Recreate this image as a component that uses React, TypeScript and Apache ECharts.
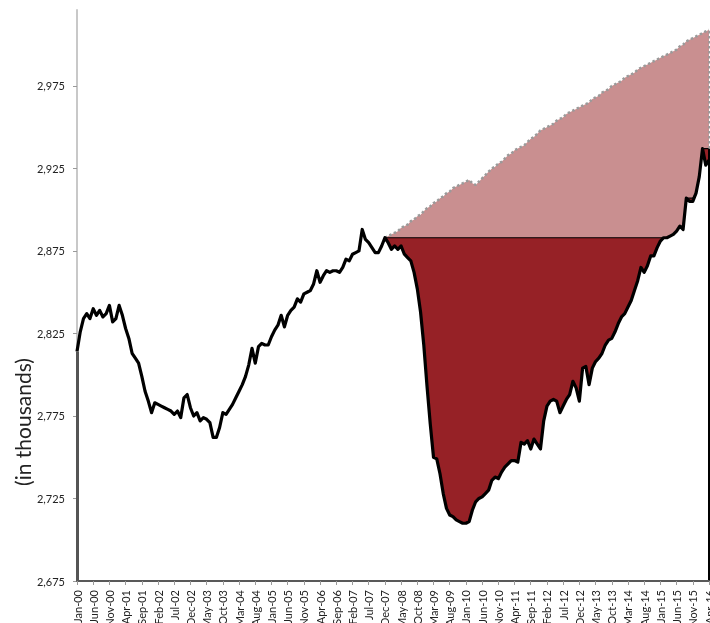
import React, { useEffect, useRef } from "react";
import * as echarts from "echarts";

const monthNames = ["Jan", "Feb", "Mar", "Apr", "May", "Jun", "Jul", "Aug", "Sep", "Oct", "Nov", "Dec"];
const categories: string[] = [];
for (let y = 2000; y <= 2016; y++) {
  for (let m = 0; m < 12; m++) {
    if (y === 2016 && m > 3) break;
    categories.push(`${monthNames[m]}-${String(y % 100).padStart(2, "0")}`);
  }
}

// Actual employment (thousands), Jan-00 .. Dec-07
const actual2000_2007 = [
  2814, 2826, 2834, 2837, 2834, 2840, 2836, 2839, 2835, 2837, 2842, 2832,
  2834, 2842, 2836, 2828, 2822, 2813, 2810, 2807, 2799, 2790, 2784, 2777,
  2783, 2782, 2781, 2780, 2779, 2778, 2776, 2778, 2774, 2786, 2788, 2780,
  2775, 2777, 2772, 2774, 2773, 2771, 2762, 2762, 2768, 2777, 2776, 2779,
  2782, 2786, 2790, 2794, 2799, 2806, 2816, 2807, 2817, 2819, 2818, 2818,
  2823, 2827, 2830, 2836, 2829, 2836, 2839, 2841, 2846, 2844, 2849, 2850,
  2851, 2855, 2863, 2856, 2860, 2863, 2862, 2863, 2863, 2862, 2865, 2870,
  2869, 2873, 2874, 2875, 2888, 2882, 2880, 2877, 2874, 2874, 2878, 2883,
];
// Actual employment (thousands), Jan-08 .. Apr-16
const actual2008_2016 = [
  2880, 2876, 2878, 2876, 2878, 2873, 2871, 2869, 2862, 2852, 2838, 2818,
  2793, 2770, 2750, 2749, 2740, 2728, 2719, 2715, 2714, 2712, 2711, 2710,
  2710, 2711, 2718, 2723, 2725, 2726, 2728, 2730, 2736, 2738, 2737, 2741,
  2744, 2746, 2748, 2748, 2747, 2759, 2758, 2760, 2755, 2761, 2758, 2755,
  2772, 2781, 2784, 2785, 2784, 2777, 2781, 2785, 2788, 2796, 2792, 2784,
  2804, 2805, 2794, 2804, 2808, 2810, 2813, 2818, 2821, 2822, 2826, 2831,
  2835, 2837, 2841, 2845, 2851, 2857, 2865, 2862, 2866, 2872, 2872, 2877,
  2881, 2883, 2883, 2884, 2885, 2887, 2890, 2888, 2907, 2905, 2905, 2910,
  2920, 2937, 2927, 2930,
];
// Pre-recession trend (thousands), Dec-07 .. Apr-16
const trendValues = [
  2883,
  2884, 2885, 2886, 2887, 2889, 2890, 2891, 2893, 2894, 2896, 2897, 2899,
  2901, 2902, 2904, 2905, 2907, 2908, 2910, 2911, 2913, 2914, 2915, 2916,
  2917, 2918, 2916, 2915, 2917, 2919, 2921, 2923, 2925, 2926, 2928, 2929,
  2931, 2933, 2934, 2936, 2937, 2938, 2939, 2941, 2943, 2944, 2946, 2948,
  2949, 2950, 2951, 2952, 2954, 2955, 2956, 2958, 2959, 2960, 2961, 2962,
  2963, 2964, 2965, 2967, 2968, 2969, 2971, 2972, 2973, 2975, 2976, 2977,
  2978, 2980, 2981, 2982, 2983, 2985, 2986, 2987, 2988, 2989, 2990, 2991,
  2992, 2993, 2994, 2995, 2996, 2997, 2999, 3000, 3002, 3003, 3004, 3005,
  3006, 3007, 3008, 3009,
];
const yTicks = [2675, 2725, 2775, 2825, 2875, 2925, 2975];

const PEAK_INDEX = 95; // Dec-07

export default function App() {
  const ref = useRef<HTMLDivElement>(null);
  useEffect(() => {
    if (!ref.current) return;
    const chart = echarts.init(ref.current, undefined, { renderer: "svg" });

    const actual = [...actual2000_2007, ...actual2008_2016];
    const trend: (number | null)[] = actual.map((_, i) => (i < PEAK_INDEX ? null : trendValues[i - PEAK_INDEX]));
    // previous peak since Dec-07 (running maximum of actual)
    const peak: (number | null)[] = [];
    let runMax = -Infinity;
    actual.forEach((v, i) => {
      if (i < PEAK_INDEX) { peak.push(null); return; }
      runMax = Math.max(runMax, v);
      peak.push(runMax);
    });
    const last = categories.length - 1;
    const font = "Lato, 'Open Sans', sans-serif";

    chart.setOption({
      animation: false,
      grid: { left: 77, right: 1, top: 10, bottom: 42, outerBoundsMode: "none", containLabel: false },
      xAxis: {
        type: "category",
        data: categories,
        boundaryGap: false,
        z: 10,
        axisLine: { lineStyle: { color: "#595959", width: 2 } },
        axisTick: { interval: 4, length: 4, lineStyle: { color: "#999" } },
        axisLabel: {
          interval: 4,
          rotate: 90,
          margin: 9,
          fontSize: 11,
          color: "#222",
          fontFamily: font,
          hideOverlap: false,
        },
        splitLine: { show: false },
      },
      yAxis: {
        type: "value",
        min: 2675,
        max: 3021,
        interval: 50,
        axisLine: { show: true, lineStyle: { color: "#c8c8c8", width: 2 } },
        axisTick: { show: true, length: 4, lineStyle: { color: "#999" }, customValues: yTicks },
        axisLabel: {
          customValues: yTicks,
          margin: 12,
          fontSize: 11,
          color: "#222",
          fontFamily: font,
          formatter: (v: number) => v.toLocaleString("en-US"),
        },
        splitLine: { show: false },
      },
      graphic: [
        {
          type: "text",
          x: 22,
          y: 422,
          rotation: Math.PI / 2,
          style: {
            text: "(in thousands)",
            fontSize: 21,
            fontFamily: font,
            fill: "#222",
            textAlign: "center",
            textVerticalAlign: "middle",
          },
        },
      ],
      series: [
        {
          name: "Trend",
          type: "line",
          data: trend,
          symbol: "none",
          lineStyle: { color: "#9a9a9a", width: 2.5, type: "dotted" },
          areaStyle: { color: "#c98f90", opacity: 1, origin: "start" },
          z: 2,
        },
        {
          name: "Previous peak",
          type: "line",
          data: peak,
          symbol: "none",
          lineStyle: { color: "#000", width: 1.2 },
          areaStyle: { color: "#962126", opacity: 1, origin: "start" },
          z: 3,
        },
        {
          name: "Actual",
          type: "line",
          data: actual,
          symbol: "none",
          lineStyle: { color: "#000", width: 3.2, join: "round" },
          areaStyle: { color: "#ffffff", opacity: 1, origin: "start" },
          z: 4,
          markLine: {
            silent: true,
            symbol: ["none", "none"],
            label: { show: false },
            animation: false,
            data: [
              [
                { coord: [categories[0], 2675], lineStyle: { color: "#555", width: 3, type: "solid" } },
                { coord: [categories[0], actual[0]], lineStyle: { color: "#555", width: 3, type: "solid" } },
              ],
              [
                { coord: [categories[last], 2675], lineStyle: { color: "#000", width: 2, type: "solid" } },
                { coord: [categories[last], peak[last]], lineStyle: { color: "#000", width: 2, type: "solid" } },
              ],
              [
                { coord: [categories[last], peak[last]], lineStyle: { color: "#9a9a9a", width: 2.5, type: "dotted" } },
                { coord: [categories[last], trend[last]], lineStyle: { color: "#9a9a9a", width: 2.5, type: "dotted" } },
              ],
            ],
          },
        },
      ],
    });
    return () => chart.dispose();
  }, []);
  return <div ref={ref} style={{ position: "fixed", left: 0, top: 0, width: 710, height: 623 }} />;
}
